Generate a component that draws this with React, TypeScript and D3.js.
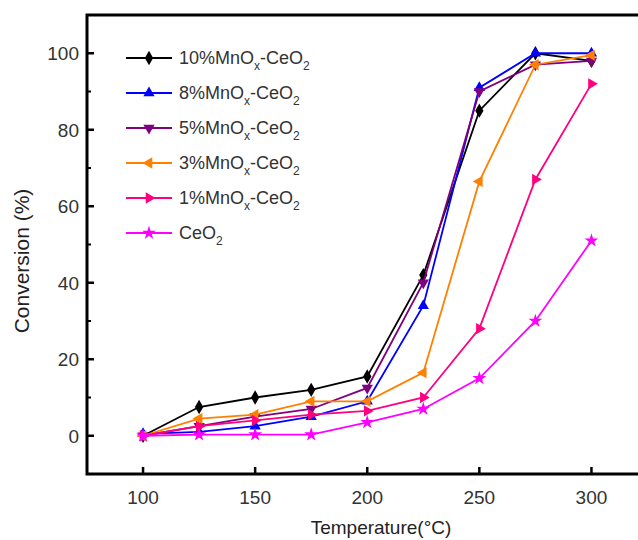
import React from 'react';
import * as d3 from 'd3';

const temps = [100, 125, 150, 175, 200, 225, 250, 275, 300];
const s10 = [0, 7.5, 10, 12, 15.5, 42, 85, 100, 98];
const s8 = [0.5, 1, 2.5, 5, 9, 34, 91, 100, 100];
const s5 = [0, 2.5, 5, 7, 12.5, 40, 90, 97, 98];
const s3 = [0, 4.5, 5.5, 9, 9, 16.5, 66.5, 97, 99.5];
const s1 = [0, 2.5, 4, 5.5, 6.5, 10, 28, 67, 92];
const s0 = [0, 0.3, 0.3, 0.3, 3.5, 7, 15, 30, 51];

const seriesNames = ['10%MnO', '8%MnO', '5%MnO', '3%MnO', '1%MnO', 'CeO'];
const seriesColors = ['#000000', '#0000ff', '#800080', '#ff8000', '#ff0080', '#ff00ff'];
const seriesData = [s10, s8, s5, s3, s1, s0];
const yTicks = [0, 20, 40, 60, 80, 100];
const yMinor = [10, 30, 50, 70, 90];
const xTicks = [100, 150, 200, 250, 300];

const W = 638;
const H = 540;
const left = 87;
const top = 15;
const bottom = 474;

const x = d3.scaleLinear().domain([75, 325]).range([left, 647.5]);
const y = d3.scaleLinear().domain([-10, 110]).range([bottom, top]);

// symbol per series: [type, rotation, size]
const symbols: [d3.SymbolType, number, number][] = [
  [d3.symbolDiamond, 0, 60],
  [d3.symbolTriangle, 0, 55],
  [d3.symbolTriangle, 180, 55],
  [d3.symbolTriangle, -90, 55],
  [d3.symbolTriangle, 90, 55],
  [d3.symbolStar, 0, 60],
];

const Marker = ({ i, cx, cy }: { i: number; cx: number; cy: number }) => {
  const [type, rot, size] = symbols[i];
  const p = d3.symbol().type(type).size(size)() || '';
  return (
    <path d={p} transform={`translate(${cx},${cy}) rotate(${rot})`} fill={seriesColors[i]} />
  );
};

const Label = ({ name, last }: { name: string; last: boolean }) => (
  <>
    {last ? (
      <>
        <tspan>CeO</tspan>
        <tspan dy={6} fontSize={12}>2</tspan>
      </>
    ) : (
      <>
        <tspan>{name}</tspan>
        <tspan dy={6} fontSize={12}>x</tspan>
        <tspan dy={-6}>-CeO</tspan>
        <tspan dy={6} fontSize={12}>2</tspan>
      </>
    )}
  </>
);

export default function App() {
  const line = d3
    .line<number>()
    .x((_, j) => x(temps[j]))
    .y((d) => y(d));

  const font = 'Arial, "Liberation Sans", sans-serif';

  return (
    <svg width={W} height={H} style={{ position: 'absolute', left: 0, top: 0 }} fontFamily={font}>
      <rect width={W} height={H} fill="#fff" />
      {/* frame */}
      <path d={`M${W + 5},${top}H${left}V${bottom}H${W + 5}`} fill="none" stroke="#000" strokeWidth={3} />
      {yTicks.map((t) => (
        <g key={t}>
          <line x1={left} x2={left + 7} y1={y(t)} y2={y(t)} stroke="#000" strokeWidth={2.5} />
          <text x={79} y={y(t) + 7} textAnchor="end" fontSize={19} fill="#333">{t}</text>
        </g>
      ))}
      {yMinor.map((t) => (
        <line key={t} x1={left} x2={left + 4} y1={y(t)} y2={y(t)} stroke="#000" strokeWidth={2} />
      ))}
      {xTicks.map((t) => (
        <g key={t}>
          <line x1={x(t)} x2={x(t)} y1={bottom} y2={bottom - 7} stroke="#000" strokeWidth={2.5} />
          <text x={x(t)} y={504} textAnchor="middle" fontSize={19} fill="#333">{t}</text>
        </g>
      ))}
      <text transform={`translate(29,261) rotate(-90)`} textAnchor="middle" fontSize={21} fill="#222">
        Conversion (%)
      </text>
      <text x={381} y={534} textAnchor="middle" fontSize={19} fill="#222">
        Temperature(°C)
      </text>

      {seriesData.map((s, i) => (
        <g key={i}>
          <path d={line(s) || ''} fill="none" stroke={seriesColors[i]} strokeWidth={1.8} />
          {s.map((v, j) => (
            <Marker key={j} i={i} cx={x(temps[j])} cy={y(v)} />
          ))}
        </g>
      ))}

      {/* legend */}
      {seriesNames.map((n, i) => {
        const ly = 58 + i * 35;
        return (
          <g key={n}>
            <line x1={126} x2={172} y1={ly} y2={ly} stroke={seriesColors[i]} strokeWidth={2} />
            <Marker i={i} cx={149} cy={ly} />
            <text x={179} y={ly + 6} fontSize={18} fill="#333">
              <Label name={n} last={i === seriesNames.length - 1} />
            </text>
          </g>
        );
      })}
    </svg>
  );
}
